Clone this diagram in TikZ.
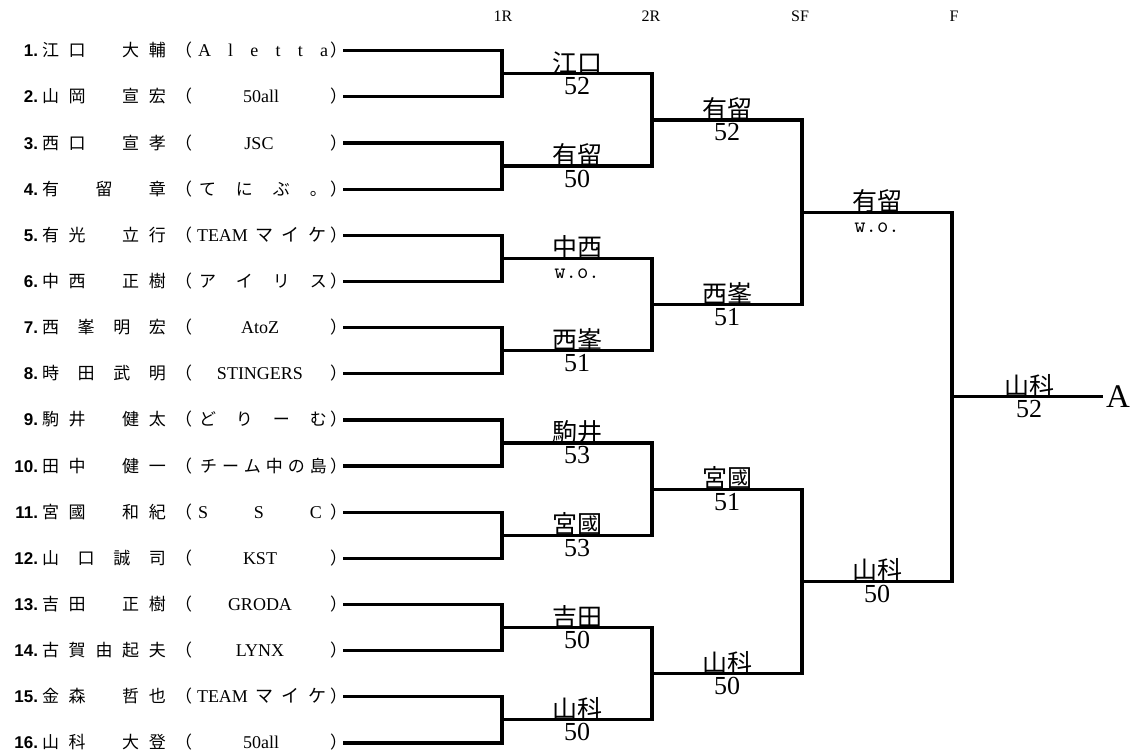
\documentclass[tikz,border=0pt]{standalone}
\usepackage{fontspec}
\setmainfont{Liberation Serif}
\newfontfamily\jp{Noto Sans CJK JP}
\newfontfamily\numfont{Liberation Sans}
\newcommand\zs{\hbox to 1em{}}
\tikzset{
  br/.style={line width=3.2pt, line join=miter},
  txt/.style={inner sep=0pt, outer sep=0pt},
  numst/.style={txt, font=\fontsize{17}{20}\selectfont\numfont\bfseries, anchor=base east},
  namest/.style={txt, font=\fontsize{17}{20}\selectfont\jp, anchor=base west},
  parst/.style={txt, font=\fontsize{17}{20}\selectfont\jp, anchor=base west},
  teamL/.style={txt, font=\fontsize{18}{20}\selectfont, anchor=base},
  teamD/.style={txt, font=\fontsize{18}{20}\selectfont, anchor=base west},
  teamJ/.style={txt, font=\fontsize{17}{20}\selectfont\jp, anchor=base west},
  wname/.style={txt, font=\fontsize{25}{28}\selectfont\jp, anchor=base},
  wscore/.style={txt, font=\fontsize{26}{28}\selectfont, anchor=base},
  wwo/.style={txt, font=\fontsize{22}{24}\selectfont\ttfamily, anchor=base},
  hdr/.style={txt, font=\fontsize{16}{20}\selectfont, anchor=base},
}
\newcommand\prow[4]{%
  \coordinate (P#1) at (343,#2);
  \node[numst] (num#1) at (38,#2+6) {#3.};
  \node[namest] (name#1) at (42,#2+6) {\makebox[124pt][s]{#4}};
  \node[parst] (po#1) at (175,#2+6) {（};
  \node[parst] (pc#1) at (330,#2+6) {）};
}
\newcommand\win[5]{%
  \node[wname] (wn#1) at (#2,#3-1.5) {#4};
  \node[wscore] (ws#1) at (#2,#3+21) {#5};
}
\newcommand\winwo[4]{%
  \node[wname] (wn#1) at (#2,#3-1.5) {#4};
  \node[wwo] (ws#1) at (#2,#3+20) {w.o.};
}
\begin{document}
\begin{tikzpicture}[x=1pt,y=-1pt]
\path[use as bounding box, fill=white] (0,0) rectangle (1140,753);

% headers
\node[hdr] (h1) at (503,21) {1R};
\node[hdr] (h2) at (651,21) {2R};
\node[hdr] (h3) at (800,21) {SF};
\node[hdr] (h4) at (954,21) {F};

% players
\prow{1}{50.7}{1}{江\hfill 口\hfill\zs\hfill 大\hfill 輔}
\node[teamD] (team1) at (198,50.7+6) {\makebox[130pt][s]{A\hfill l\hfill e\hfill t\hfill t\hfill a}};
\prow{2}{96.85}{2}{山\hfill 岡\hfill\zs\hfill 宣\hfill 宏}
\node[teamL] (team2) at (261,96.85+6) {50all};
\prow{3}{143.0}{3}{西\hfill 口\hfill\zs\hfill 宣\hfill 孝}
\node[teamL] (team3) at (259,143.0+6) {JSC};
\prow{4}{189.15}{4}{有\hfill\zs\hfill 留\hfill\zs\hfill 章}
\node[teamJ] (team4) at (199,189.15+6) {\makebox[128pt][s]{て\hfill に\hfill ぶ\hfill 。}};
\prow{5}{235.3}{5}{有\hfill 光\hfill\zs\hfill 立\hfill 行}
\node[teamD] (team5) at (197,235.3+6) {\makebox[129pt][s]{TEAM\hfill\jp マ\hfill イ\hfill ケ}};
\prow{6}{281.45}{6}{中\hfill 西\hfill\zs\hfill 正\hfill 樹}
\node[teamJ] (team6) at (199,281.45+6) {\makebox[128pt][s]{ア\hfill イ\hfill リ\hfill ス}};
\prow{7}{327.6}{7}{西\hfill 峯\hfill 明\hfill 宏}
\node[teamL] (team7) at (260,327.6+6) {AtoZ};
\prow{8}{373.75}{8}{時\hfill 田\hfill 武\hfill 明}
\node[teamL] (team8) at (260,373.75+6) {STINGERS};
\prow{9}{419.9}{9}{駒\hfill 井\hfill\zs\hfill 健\hfill 太}
\node[teamJ] (team9) at (199,419.9+6) {\makebox[128pt][s]{ど\hfill り\hfill ー\hfill む}};
\prow{10}{466.05}{10}{田\hfill 中\hfill\zs\hfill 健\hfill 一}
\node[teamJ] (team10) at (200,466.05+6) {\makebox[127pt][s]{チ\hfill ー\hfill ム\hfill 中\hfill の\hfill 島}};
\prow{11}{512.2}{11}{宮\hfill 國\hfill\zs\hfill 和\hfill 紀}
\node[teamD] (team11) at (198,512.2+6) {\makebox[124pt][s]{S\hfill S\hfill C}};
\prow{12}{558.35}{12}{山\hfill 口\hfill 誠\hfill 司}
\node[teamL] (team12) at (260,558.35+6) {KST};
\prow{13}{604.5}{13}{吉\hfill 田\hfill\zs\hfill 正\hfill 樹}
\node[teamL] (team13) at (260,604.5+6) {GRODA};
\prow{14}{650.65}{14}{古\hfill 賀\hfill 由\hfill 起\hfill 夫}
\node[teamL] (team14) at (260,650.65+6) {LYNX};
\prow{15}{696.8}{15}{金\hfill 森\hfill\zs\hfill 哲\hfill 也}
\node[teamD] (team15) at (197,696.8+6) {\makebox[129pt][s]{TEAM\hfill\jp マ\hfill イ\hfill ケ}};
\prow{16}{742.95}{16}{山\hfill 科\hfill\zs\hfill 大\hfill 登}
\node[teamL] (team16) at (261,742.95+6) {50all};

% junctions
\coordinate (M1) at (502,73.775);
\coordinate (M2) at (502,166.075);
\coordinate (M3) at (502,258.375);
\coordinate (M4) at (502,350.675);
\coordinate (M5) at (502,442.975);
\coordinate (M6) at (502,535.275);
\coordinate (M7) at (502,627.575);
\coordinate (M8) at (502,719.875);
\coordinate (Q1) at (652,119.925);
\coordinate (Q2) at (652,304.525);
\coordinate (Q3) at (652,489.125);
\coordinate (Q4) at (652,673.725);
\coordinate (S1) at (802,212.225);
\coordinate (S2) at (802,581.425);
\coordinate (Fj) at (952,396.825);
\node[txt, inner sep=3pt, anchor=west, font=\fontsize{33}{36}\selectfont] (A) at (1103,396.825) {A};

% bracket lines
\draw[br] (P1) -| (M1) |- (P2);
\draw[br] (P3) -| (M2) |- (P4);
\draw[br] (P5) -| (M3) |- (P6);
\draw[br] (P7) -| (M4) |- (P8);
\draw[br] (P9) -| (M5) |- (P10);
\draw[br] (P11) -| (M6) |- (P12);
\draw[br] (P13) -| (M7) |- (P14);
\draw[br] (P15) -| (M8) |- (P16);
\draw[br] (M1) -| (Q1) |- (M2);
\draw[br] (M3) -| (Q2) |- (M4);
\draw[br] (M5) -| (Q3) |- (M6);
\draw[br] (M7) -| (Q4) |- (M8);
\draw[br] (Q1) -| (S1) |- (Q2);
\draw[br] (Q3) -| (S2) |- (Q4);
\draw[br] (S1) -| (Fj) |- (S2);
\draw[br] (Fj) -- (A);

% results
\win{m1}{577}{73.775}{江口}{52}
\win{m2}{577}{166.075}{有留}{50}
\winwo{m3}{577}{258.375}{中西}
\win{m4}{577}{350.675}{西峯}{51}
\win{m5}{577}{442.975}{駒井}{53}
\win{m6}{577}{535.275}{宮國}{53}
\win{m7}{577}{627.575}{吉田}{50}
\win{m8}{577}{719.875}{山科}{50}
\win{q1}{727}{119.925}{有留}{52}
\win{q2}{727}{304.525}{西峯}{51}
\win{q3}{727}{489.125}{宮國}{51}
\win{q4}{727}{673.725}{山科}{50}
\winwo{s1}{877}{212.225}{有留}
\win{s2}{877}{581.425}{山科}{50}
\win{f}{1029}{396.825}{山科}{52}
\end{tikzpicture}
\end{document}
